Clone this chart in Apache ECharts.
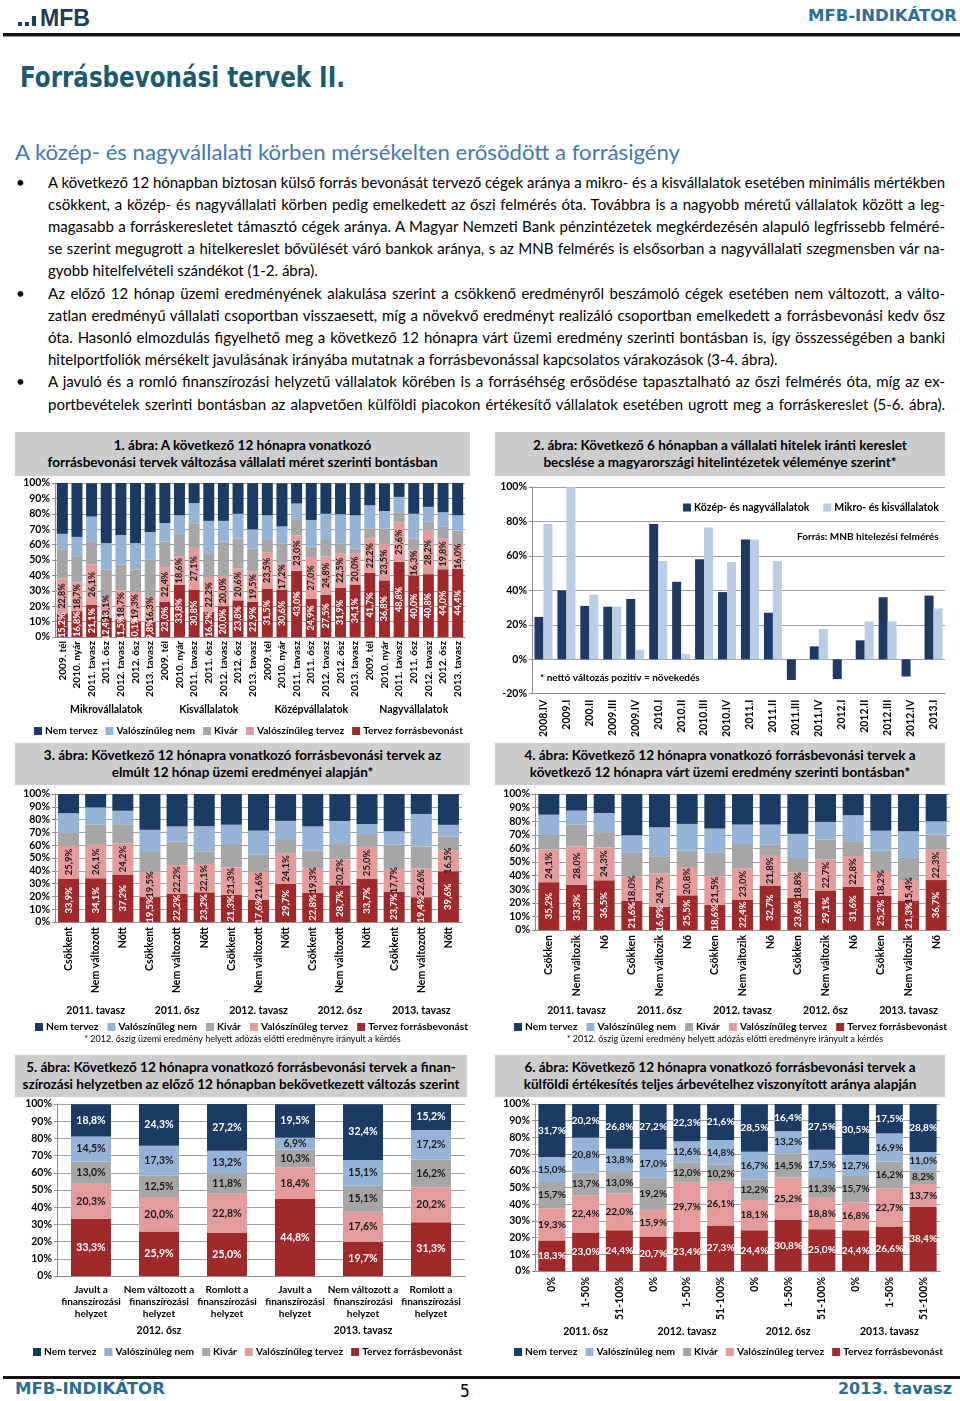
<!DOCTYPE html>
<html><head><meta charset="utf-8">
<script src="https://cdn.jsdelivr.net/npm/echarts/dist/echarts.min.js"></script>
<style>
body{margin:0;width:960px;height:1401px;position:relative;background:#fff;overflow:hidden;font-family:Lato,"Open Sans",sans-serif;color:#000}
.abs{position:absolute}
.ttl{position:absolute;background:#CDCDCD;text-align:center;font-weight:bold;font-size:13.5px;line-height:17px;display:flex;flex-direction:column;justify-content:center;white-space:nowrap}
.ln{position:absolute;left:48px;font-size:15px;white-space:nowrap;line-height:20px}
.bul{position:absolute;left:16px;font-size:15px;line-height:20px}
.fit{position:absolute;white-space:nowrap;transform-origin:left center}
</style></head>
<body>
<!-- header -->
<div class="abs" style="left:18px;top:22px;width:4px;height:4px;background:#1F3B5C"></div>
<div class="abs" style="left:25px;top:22px;width:4px;height:4px;background:#1F3B5C"></div>
<div class="abs" style="left:32px;top:16px;width:4px;height:10px;background:#1F3B5C"></div>
<div class="fit" data-w="50" style="left:40px;top:4px;font:bold 24px 'Liberation Sans',sans-serif;color:#1F3B5C">MFB</div>
<div class="fit" data-w="149" style="left:808px;top:7px;font:bold 15px 'DejaVu Sans',sans-serif;color:#2A6E96">MFB-INDIKÁTOR</div>
<div class="abs" style="left:3px;top:33px;width:957px;height:3px;background:#111"></div>
<div class="abs" style="left:3px;top:36px;width:957px;height:1px;background:#999"></div>

<div class="fit" data-w="325" style="left:20px;top:61px;font:bold 28px 'DejaVu Sans',sans-serif;color:#1C5B6E">Forrásbevonási tervek II.</div>
<div class="fit" data-w="665" style="left:15px;top:139px;font:21px Lato,sans-serif;color:#3F77B8">A közép- és nagyvállalati körben mérsékelten erősödött a forrásigény</div>

<div id="body"></div>

<!-- chart titles -->
<div class="ttl" style="left:15px;top:432px;width:455px;height:44px"><div>1. ábra: A következő 12 hónapra vonatkozó</div><div>forrásbevonási tervek változása vállalati méret szerinti bontásban</div></div>
<div class="ttl" style="left:495px;top:432px;width:450px;height:44px"><div>2. ábra: Következő 6 hónapban a vállalati hitelek iránti kereslet</div><div>becslése a magyarországi hitelintézetek véleménye szerint*</div></div>
<div class="ttl" style="left:15px;top:743px;width:455px;height:42px"><div>3. ábra: Következő 12 hónapra vonatkozó forrásbevonási tervek az</div><div>elmúlt 12 hónap üzemi eredményei alapján*</div></div>
<div class="ttl" style="left:495px;top:743px;width:450px;height:42px"><div>4. ábra: Következő 12 hónapra vonatkozó forrásbevonási tervek a</div><div>következő 12 hónapra várt üzemi eredmény szerinti bontásban*</div></div>
<div class="ttl" style="left:15px;top:1055px;width:452px;height:42px"><div>5. ábra: Következő 12 hónapra vonatkozó forrásbevonási tervek a finan-</div><div>szírozási helyzetben az előző 12 hónapban bekövetkezett változás szerint</div></div>
<div class="ttl" style="left:495px;top:1055px;width:450px;height:42px"><div>6. ábra: Következő 12 hónapra vonatkozó forrásbevonási tervek a</div><div>külföldi értékesítés teljes árbevételhez viszonyított aránya alapján</div></div>

<div id="c1" class="abs" style="left:15px;top:477px;width:455px;height:263px"></div>
<div id="c2" class="abs" style="left:495px;top:477px;width:460px;height:263px"></div>
<div id="c3" class="abs" style="left:15px;top:785px;width:455px;height:265px"></div>
<div id="c4" class="abs" style="left:495px;top:785px;width:460px;height:265px"></div>
<div id="c5" class="abs" style="left:15px;top:1097px;width:455px;height:263px"></div>
<div id="c6" class="abs" style="left:495px;top:1097px;width:460px;height:263px"></div>

<!-- footer -->
<div class="abs" style="left:3px;top:1376px;width:957px;height:3px;background:#111"></div>
<div class="fit" data-w="150" style="left:15px;top:1379px;font:bold 16px 'DejaVu Sans',sans-serif;color:#2A6E96">MFB-INDIKÁTOR</div>
<div class="abs" style="left:460px;top:1381px;font:17px 'DejaVu Sans Condensed',sans-serif">5</div>
<div class="fit" data-w="114" style="left:838px;top:1379px;font:bold 16px 'DejaVu Sans',sans-serif;color:#2A6E96">2013. tavasz</div>

<script>
// ---------------- text ----------------
const bodyLines = [
 ['A következő 12 hónapban biztosan külső forrás bevonását tervező cégek aránya a mikro- és a kisvállalatok esetében minimális mértékben',1,182,true],
 ['csökkent, a közép- és nagyvállalati körben pedig emelkedett az őszi felmérés óta. Továbbra is a nagyobb méretű vállalatok között a leg-',1,204,false],
 ['magasabb a forráskeresletet támasztó cégek aránya. A Magyar Nemzeti Bank pénzintézetek megkérdezésén alapuló legfrissebb felméré-',1,226,false],
 ['se szerint megugrott a hitelkereslet bővülését váró bankok aránya, s az MNB felmérés is elsősorban a nagyvállalati szegmensben vár na-',1,248,false],
 ['gyobb hitelfelvételi szándékot (1-2. ábra).',0,270,false],
 ['Az előző 12 hónap üzemi eredményének alakulása szerint a csökkenő eredményről beszámoló cégek esetében nem változott, a válto-',1,293,true],
 ['zatlan eredményű vállalati csoportban visszaesett, míg a növekvő eredményt realizáló csoportban emelkedett a forrásbevonási kedv ősz',1,315,false],
 ['óta. Hasonló elmozdulás figyelhető meg a következő 12 hónapra várt üzemi eredmény szerinti bontásban is, így összességében a banki',1,337,false],
 ['hitelportfoliók mérsékelt javulásának irányába mutatnak a forrásbevonással kapcsolatos várakozások (3-4. ábra).',0,359,false],
 ['A javuló és a romló finanszírozási helyzetű vállalatok körében is a forráséhség erősödése tapasztalható az őszi felmérés óta, míg az ex-',1,381,true],
 ['portbevételek szerinti bontásban az alapvetően külföldi piacokon értékesítő vállalatok esetében ugrott meg a forráskereslet (5-6. ábra).',1,404,false]
];
const bodyEl = document.getElementById('body');
bodyLines.forEach(([t,j,y,b])=>{
  const d=document.createElement('div'); d.className='ln'; d.style.top=(y-10)+'px';
  d.dataset.j=j; d.dataset.w=897;
  const s=document.createElement('span'); s.textContent=t; d.appendChild(s); bodyEl.appendChild(d);
  if(b){const u=document.createElement('div'); u.className='bul'; u.style.top=(y-10)+'px'; u.textContent='•'; bodyEl.appendChild(u);}
});
function fitAll(){
  document.querySelectorAll('.fit').forEach(el=>{
    const nw=el.getBoundingClientRect().width; el.style.transform='scaleX('+(+el.dataset.w/nw)+')';
  });
  document.querySelectorAll('.ln').forEach(el=>{
    const s=el.firstElementChild; const nw=s.getBoundingClientRect().width; const w=+el.dataset.w;
    if(nw>w){s.style.display='inline-block';s.style.transformOrigin='left center';s.style.transform='scaleX('+(w/nw)+')';}
    else if(el.dataset.j==='1'){const n=(s.textContent.match(/ /g)||[]).length; s.style.wordSpacing=((w-nw)/n)+'px';}
  });
}

// ---------------- data ----------------
const legendOrder = ['Nem tervez','Valószínűleg nem','Kivár','Valószínűleg tervez','Tervez forrásbevonást'];

const c1Groups = ['Mikrovállalatok','Kisvállalatok','Középvállalatok','Nagyvállalatok'];
const c1Periods = ['2009. tél','2010. nyár','2011. tavasz','2011. ősz','2012. tavasz','2012. ősz','2013. tavasz'];
const c1Tervez     = [15.2,16.8,21.1,12.4,11.5,10.1,9.8, 23.0,33.8,30.8,16.2,20.0,23.8,22.9, 31.5,30.6,43.0,24.9,27.5,31.9,34.1, 41.7,36.8,48.8,40.0,40.8,44.0,44.4];
const c1ValTervez  = [22.8,18.7,26.1,13.1,18.7,19.3,16.3, 22.4,18.6,27.1,22.2,20.0,20.6,19.5, 23.5,17.2,23.0,27.0,24.8,22.5,20.0, 22.2,23.5,25.6,16.3,28.2,19.8,16.0];
const c1Kivar      = [19,17,15,18.5,17,14.6,24, 16.6,14.6,16,16,22,19.6,15, 8,13,10,6.7,10.7,6.4,3.4, 6.6,10,6.6,7.7,5.8,7.7,8.6];
const c1ValNem     = [10,12.5,16,17,19,17,18, 12,12,13,21,13.4,16,12.5, 16,11,10.7,17.4,17,19,21.5, 15,11.5,10,16,9.7,9.5,10];
const c1NemTervez  = [33,35,21.6,39,34,39,32, 26,21,13,25,24.6,20,30, 21,28,13.4,24,20,20,21, 14.4,18,9,20,15.5,19,21];

const c2Cats  = ['2008.IV','2009.I','200.II','2009.III','2009.IV','2010.I','2010.II','2010.III','2010.IV','2011.I','2011.II','2011.III','2011.IV','2012.I','2012.II','2012.III','2012.IV','2013.I'];
const c2Names = ['Közép- és nagyvállalatok','Mikro- és kisvállalatok'];
const c2Large = [24.6,40,31,30.5,35,78.5,45,58,39,69.5,27,-12,7.5,-11.5,11,36,-10,37];
const c2Small = [78.5,100,37.5,30.5,5.5,57,3,76.5,56.5,69.5,57,0,17.5,0,22,22,0,29.5];

const c3Groups = ['2011. tavasz','2011. ősz','2012. tavasz','2012. ősz','2013. tavasz'];
const c3Cats = ['Csökkent','Nem változott','Nőtt'];
const c3Tervez    = [33.9,34.1,37.2, 19.5,22.2,23.2, 21.3,17.6,29.7, 22.8,28.7,33.7, 23.7,19.4,39.6];
const c3ValTervez = [25.9,26.1,24.2, 19.5,22.2,22.1, 21.3,21.6,24.1, 19.3,20.2,25.0, 17.7,22.6,16.5];
const c3Kivar     = [9.7,15.8,15, 15.7,18.6,9.9, 18.4,13.4,11, 13.6,12,10, 19,17,10.8];
const c3ValNem    = [15.5,13.6,10.5, 17.3,11.7,19.7, 15,18.8,14.2, 19,18,7.8, 10.4,25.4,9];
const c3NemTervez = [15,10.4,13, 28,25.3,25.3, 24,28.6,21, 25.3,21,23.4, 29.2,15.6,24];

const c4Groups = ['2011. tavasz','2011. ősz','2012. tavasz','2012. ősz','2013. tavasz'];
const c4Cats = ['Csökken','Nem változik','Nő'];
const c4Tervez    = [35.2,33.3,36.5, 21.6,16.9,25.5, 18.6,22.4,32.7, 23.6,29.1,31.6, 25.2,21.3,36.7];
const c4ValTervez = [24.1,28.0,24.3, 18.0,24.7,20.8, 21.5,23.0,21.8, 18.8,22.7,22.8, 18.2,15.4,22.3];
const c4Kivar     = [10.4,16.2,11.2, 17.1,12.7,12.1, 16.6,17.9,8.3, 10.6,14.7,10.9, 15,16.3,11.2];
const c4ValNem    = [15.1,10.3,14, 13,21.2,19.6, 17.9,14.2,14.7, 17.7,13,19.1, 14.6,19.6,9.8];
const c4NemTervez = [15.2,12.2,14, 30.3,24.5,22, 25.4,22.5,22.5, 29.3,20.5,15.6, 27,27.4,20];

const c5Groups = ['2012. ősz','2013. tavasz'];
const c5Cats = ['Javult a\nfinanszírozási\nhelyzet','Nem változott a\nfinanszírozási\nhelyzet','Romlott a\nfinanszírozási\nhelyzet'];
const c5Tervez    = [33.3,25.9,25.0, 44.8,19.7,31.3];
const c5ValTervez = [20.3,20.0,22.8, 18.4,17.6,20.2];
const c5Kivar     = [13.0,12.5,11.8, 10.3,15.1,16.2];
const c5ValNem    = [14.5,17.3,13.2, 6.9,15.1,17.2];
const c5NemTervez = [18.8,24.3,27.2, 19.5,32.4,15.2];

const c6Groups = ['2011. ősz','2012. tavasz','2012. ősz','2013. tavasz'];
const c6Cats = ['0%','1-50%','51-100%'];
const c6Tervez    = [18.3,23.0,24.4, 20.7,23.4,27.3, 24.4,30.8,25.0, 24.4,26.6,38.4];
const c6ValTervez = [19.3,22.4,22.0, 15.9,29.7,26.1, 18.1,25.2,18.8, 16.8,22.7,13.7];
const c6Kivar     = [15.7,13.7,13.0, 19.2,12.0,10.2, 12.2,14.5,11.3, 15.7,16.2,8.2];
const c6ValNem    = [15.0,20.8,13.8, 17.0,12.6,14.8, 16.7,13.2,17.5, 12.7,16.9,11.0];
const c6NemTervez = [31.7,20.2,26.8, 27.2,22.3,21.6, 28.5,16.4,27.5, 30.5,17.5,28.8];

const footnote = '* 2012. őszig üzemi eredmény helyett adózás előtti eredményre irányult a kérdés';

// ---------------- charts ----------------
const FONT = 'Lato, "Open Sans", sans-serif';
const COL = {nt:'#1B3A64', vn:'#95B3D7', kv:'#A6A6A6', vt:'#E39C9B', t:'#A0292C'};
const AX = '#8C8C8C';
function fmt(v){ return v.toFixed(1).replace('.', ',') + '%'; }
function expand(groups, cats){ const r=[]; groups.forEach(()=>cats.forEach(c=>r.push(c))); return r; }

function stacked(id, c){
  const ch = echarts.init(document.getElementById(id));
  const layers = [
    ['Tervez forrásbevonást', c.t, COL.t, '#fff'],
    ['Valószínűleg tervez', c.vt, COL.vt, '#1a1a1a'],
    ['Kivár', c.kv, COL.kv, '#1a1a1a'],
    ['Valószínűleg nem', c.vn, COL.vn, '#1a1a1a'],
    ['Nem tervez', c.nt, COL.nt, '#fff']
  ];
  const series = layers.map((l,i)=>({
    type:'bar', name:l[0], stack:'s', data:l[1], barWidth:c.barWidth, itemStyle:{color:l[2]},
    label:{show:i<c.labeled, position:'inside', rotate:c.labelRotate, formatter:p=>fmt(p.value),
      color:l[3], fontSize:c.labelSize, fontWeight:'bold', fontFamily:FONT}
  }));
  const opt = {
    animation:false,
    grid:c.grid,
    legend:{data:legendOrder, left:c.legendLeft, top:c.legendTop, width:450, icon:'rect', itemWidth:8, itemHeight:8,
      itemGap:c.legendGap, textStyle:{fontFamily:FONT, fontWeight:'bold', fontSize:10.2, color:'#000', padding:[0,0,0,-2]}},
    xAxis:[
      {type:'category', data:c.cats, axisLine:{lineStyle:{color:AX}},
       axisTick:{interval:0, length:c.tickLen, lineStyle:{color:AX}},
       axisLabel:{interval:0, rotate:c.catRotate, margin:c.catMargin, fontFamily:FONT, fontWeight:'bold',
         fontSize:c.catSize, color:'#000', lineHeight:12}},
      {type:'category', data:c.groups, position:'bottom', axisLine:{show:false},
       axisTick:{interval:0, length:c.groupTickLen, lineStyle:{color:AX}},
       axisLabel:{interval:0, margin:c.groupMargin, fontFamily:FONT, fontWeight:'bold', fontSize:10.5, color:'#000'}}
    ],
    yAxis:{type:'value', min:0, max:100, interval:10,
      axisLine:{show:true, lineStyle:{color:AX}}, axisTick:{show:true, length:3, lineStyle:{color:AX}},
      axisLabel:{formatter:'{value}%', fontFamily:FONT, fontWeight:'bold', fontSize:10.5, color:'#000', margin:5},
      splitLine:{lineStyle:{color:'#A0A0A0'}}},
    series:series,
    graphic:c.graphic||[]
  };
  ch.setOption(opt);
}

function draw(){
  stacked('c1',{
    cats:expand(c1Groups,c1Periods), groups:c1Groups,
    t:c1Tervez, vt:c1ValTervez, kv:c1Kivar, vn:c1ValNem, nt:c1NemTervez,
    grid:{left:40, top:6, width:410, height:154}, barWidth:11, labeled:2, labelRotate:90, labelSize:9,
    catRotate:90, catMargin:4, catSize:10, tickLen:58, groupTickLen:83, groupMargin:67,
    legendLeft:14, legendTop:244, legendGap:8
  });
  stacked('c3',{
    cats:expand(c3Groups,c3Cats), groups:c3Groups,
    t:c3Tervez, vt:c3ValTervez, kv:c3Kivar, vn:c3ValNem, nt:c3NemTervez,
    grid:{left:40, top:9, width:407, height:128}, barWidth:21, labeled:2, labelRotate:90, labelSize:9.5,
    catRotate:90, catMargin:5, catSize:10.5, tickLen:73, groupTickLen:96, groupMargin:83,
    legendLeft:15, legendTop:232, legendGap:9,
    graphic:[{type:'text', left:'center', top:250, style:{text:footnote, font:'9px '+FONT, fill:'#000'}}]
  });
  stacked('c4',{
    cats:expand(c4Groups,c4Cats), groups:c4Groups,
    t:c4Tervez, vt:c4ValTervez, kv:c4Kivar, vn:c4ValNem, nt:c4NemTervez,
    grid:{left:40, top:9, width:415, height:136}, barWidth:21, labeled:2, labelRotate:90, labelSize:9.5,
    catRotate:90, catMargin:5, catSize:10.5, tickLen:74, groupTickLen:87, groupMargin:75,
    legendLeft:14, legendTop:232, legendGap:9,
    graphic:[{type:'text', left:'center', top:250, style:{text:footnote, font:'9px '+FONT, fill:'#000'}}]
  });
  stacked('c5',{
    cats:expand(c5Groups,c5Cats), groups:c5Groups,
    t:c5Tervez, vt:c5ValTervez, kv:c5Kivar, vn:c5ValNem, nt:c5NemTervez,
    grid:{left:42, top:7, width:408, height:172}, barWidth:40, labeled:5, labelRotate:0, labelSize:10.5,
    catRotate:0, catMargin:8, catSize:10, tickLen:42, groupTickLen:62, groupMargin:49,
    legendLeft:13, legendTop:245, legendGap:8
  });
  stacked('c6',{
    cats:expand(c6Groups,c6Cats), groups:c6Groups,
    t:c6Tervez, vt:c6ValTervez, kv:c6Kivar, vn:c6ValNem, nt:c6NemTervez,
    grid:{left:40, top:7, width:405, height:167}, barWidth:27, labeled:5, labelRotate:0, labelSize:10,
    catRotate:90, catMargin:6, catSize:10.5, tickLen:49, groupTickLen:69, groupMargin:55,
    legendLeft:14, legendTop:245, legendGap:8
  });

  const ch2 = echarts.init(document.getElementById('c2'));
  ch2.setOption({
    animation:false,
    grid:{left:37, top:10, width:413, height:209},
    legend:{data:c2Names, left:183, top:20, width:300, icon:'rect', itemWidth:8, itemHeight:8, itemGap:14,
      textStyle:{fontFamily:FONT, fontWeight:'bold', fontSize:10.5, color:'#000', padding:[0,0,0,-2]}},
    xAxis:{type:'category', data:c2Cats, axisLine:{onZero:false, lineStyle:{color:AX}},
      axisTick:{interval:0, length:5, lineStyle:{color:AX}},
      axisLabel:{interval:0, rotate:90, margin:6, fontFamily:FONT, fontWeight:'bold', fontSize:10.5, color:'#000'}},
    yAxis:{type:'value', min:-20, max:100, interval:20,
      axisLine:{show:true, lineStyle:{color:AX}}, axisTick:{show:true, length:3, lineStyle:{color:AX}},
      axisLabel:{formatter:'{value}%', fontFamily:FONT, fontWeight:'bold', fontSize:10.5, color:'#000', margin:5},
      splitLine:{lineStyle:{color:'#A0A0A0'}}},
    series:[
      {type:'bar', name:c2Names[0], data:c2Large, barWidth:9, barGap:'0%', itemStyle:{color:'#1F3864'}},
      {type:'bar', name:c2Names[1], data:c2Small, barWidth:9, barGap:'0%', itemStyle:{color:'#B9CDE5'}}
    ],
    graphic:[
      {type:'text', left:302, top:55, style:{text:'Forrás: MNB hitelezési felmérés', font:'bold 10px '+FONT, fill:'#000'}},
      {type:'text', left:45, top:196, style:{text:'* nettó változás pozitív = növekedés', font:'bold 10px '+FONT, fill:'#000'}}
    ]
  });
}
(document.fonts ? document.fonts.ready : Promise.resolve()).then(()=>{ fitAll(); draw(); });
</script>
</body></html>
